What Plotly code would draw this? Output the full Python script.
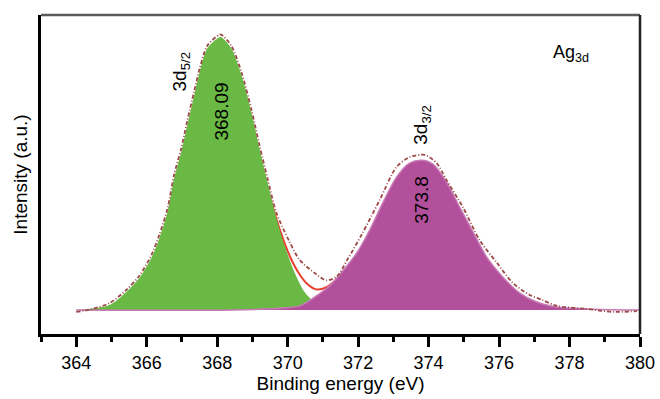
import plotly.graph_objects as go

# ---- data ----
green_E = [364.03, 364.94, 365.42, 365.79, 366.13, 366.36, 366.59, 366.78, 366.98, 367.15,
           367.35, 367.50, 367.72, 368.06, 368.12, 368.40, 368.69, 368.97, 369.20, 369.43,
           369.68, 369.91, 370.19, 370.48, 370.76, 371.13, 371.62]
green_I = [0.0, 1.8, 6.6, 11.7, 19.0, 26.3, 35.8, 48.2, 57.7, 67.5,
           78.5, 86.9, 95.6, 99.6, 99.6, 95.6, 85.8, 72.3, 59.1, 46.7,
           33.6, 23.7, 13.9, 6.6, 2.9, 0.7, 0.0]

magenta_E = [364.0, 368.43, 369.85, 370.34, 370.71, 371.19, 371.47, 371.96, 372.33, 372.70,
             373.09, 373.46, 373.80, 374.12, 374.51, 374.88, 375.25, 375.65, 376.11, 376.59,
             377.07, 377.64, 378.49, 379.91, 380.0]
magenta_I = [0.0, 0.0, 0.7, 1.5, 4.2, 8.8, 12.8, 20.8, 29.2, 39.1,
             48.5, 53.6, 54.7, 53.3, 46.7, 37.6, 28.8, 19.3, 12.0, 6.2,
             2.9, 1.1, 0.4, 0.0, 0.0]

fit_E = [369.5, 369.8, 370.05, 370.3, 370.55, 370.82, 371.1, 371.39, 371.7, 372.0]
fit_I = [41.0, 28.5, 20.0, 13.8, 9.6, 7.5, 8.3, 11.2, 15.8, 20.5]

env_E = [364.0, 364.4, 364.94, 365.42, 365.79, 366.13, 366.36, 366.59, 366.78, 366.98,
         367.15, 367.35, 367.50, 367.72, 368.06, 368.12, 368.40, 368.69, 368.97, 369.20,
         369.43, 369.68, 370.05, 370.34, 370.8, 371.1, 371.4, 371.7, 372.1, 372.61,
         373.09, 373.46, 373.89, 374.23, 374.51, 374.97, 375.45, 375.94, 376.39, 376.87,
         377.24, 377.64, 378.49, 379.23, 379.91]
env_I = [-0.7, 0.2, 2.5, 7.3, 12.5, 20.0, 27.5, 37.0, 49.5, 59.0,
         69.0, 80.0, 88.0, 96.5, 100.5, 100.5, 96.5, 86.8, 73.3, 60.2,
         48.0, 35.5, 25.0, 18.3, 13.2, 10.8, 12.3, 18.5, 27.5, 40.1,
         52.2, 55.8, 56.6, 53.6, 47.4, 37.6, 25.5, 17.2, 9.9, 5.5,
         3.6, 1.5, 0.4, -0.7, -0.4]

x_ticks = [364, 366, 368, 370, 372, 374, 376, 378, 380]

FONT = "Arial, Liberation Sans, sans-serif"
GREEN = "#69b944"
MAGENTA = "#b3509b"

fig = go.Figure()
# summed fit drawn first so the component fills cover it except in the valley
fig.add_trace(go.Scatter(x=fit_E, y=fit_I, mode="lines",
                         line=dict(color="#e8402f", width=2, shape="spline", smoothing=0.8),
                         showlegend=False, hoverinfo="skip"))
fig.add_trace(go.Scatter(x=green_E, y=green_I, mode="lines", fill="tozeroy",
                         fillcolor=GREEN, line=dict(color=GREEN, width=0, shape="spline", smoothing=0.8),
                         showlegend=False, hoverinfo="skip"))
fig.add_trace(go.Scatter(x=magenta_E, y=magenta_I, mode="lines", fill="tozeroy",
                         fillcolor=MAGENTA, line=dict(color="#c77ab5", width=1.5, shape="spline", smoothing=0.8),
                         showlegend=False, hoverinfo="skip"))
fig.add_trace(go.Scatter(x=env_E, y=env_I, mode="lines",
                         line=dict(color="#9c4a48", width=1.8, dash="4px,2px,1px,2px",
                                   shape="spline", smoothing=0.8),
                         showlegend=False, hoverinfo="skip"))

ann_font = dict(family=FONT, size=19, color="black")
fig.add_annotation(x=366.96, y=86.9, text="3d<sub>5/2</sub>", textangle=-90, showarrow=False,
                   xanchor="center", yanchor="middle", font=ann_font)
fig.add_annotation(x=368.12, y=72.6, text="368.09", textangle=-90, showarrow=False,
                   xanchor="center", yanchor="middle", font=ann_font)
fig.add_annotation(x=373.83, y=67.5, text="3d<sub>3/2</sub>", textangle=-90, showarrow=False,
                   xanchor="center", yanchor="middle", font=ann_font)
fig.add_annotation(x=373.8, y=40.1, text="373.8", textangle=-90, showarrow=False,
                   xanchor="center", yanchor="middle", font=ann_font)
fig.add_annotation(x=378.04, y=93.8, text="Ag<sub>3d</sub>", showarrow=False,
                   xanchor="center", yanchor="middle", font=dict(family=FONT, size=18, color="black"))

# top and right frame lines
fig.add_shape(type="line", xref="paper", yref="paper", x0=0, x1=1, y0=1, y1=1,
              line=dict(color="#5a5a5a", width=2.5))
fig.add_shape(type="line", xref="paper", yref="paper", x0=1, x1=1, y0=0, y1=1,
              line=dict(color="#222222", width=2.5))

fig.update_layout(
    width=660, height=399,
    margin=dict(l=41, r=20, t=15, b=65, autoexpand=False),
    paper_bgcolor="white", plot_bgcolor="white",
    template=None,
    font=dict(family=FONT, color="black"),
    xaxis=dict(range=[363, 380], tickvals=x_ticks, ticktext=[str(v) for v in x_ticks],
               ticks="outside", ticklen=10, tickwidth=2.5, tickcolor="black",
               minor=dict(dtick=1, tick0=363, ticks="outside", ticklen=5, tickwidth=2.5, tickcolor="black"),
               showline=True, linecolor="black", linewidth=3, showgrid=False, zeroline=False,
               tickfont=dict(family=FONT, size=18, color="black"),
               title=dict(text="Binding energy (eV)", font=dict(family=FONT, size=19, color="black"),
                          standoff=6),
               automargin=False),
    yaxis=dict(range=[-8.76, 107.7], showticklabels=False, ticks="",
               showline=True, linecolor="black", linewidth=3, showgrid=False, zeroline=False,
               title=dict(text="Intensity (a.u.)", font=dict(family=FONT, size=19, color="black"),
                          standoff=6),
               automargin=False),
)

fig.write_html("out.html")
